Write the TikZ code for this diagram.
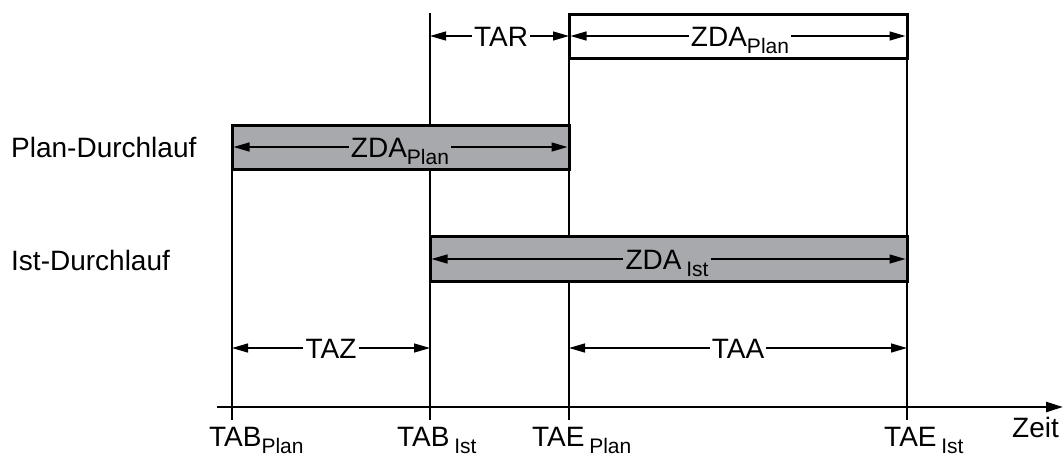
\documentclass[tikz,border=0pt]{standalone}
\usepackage{fontspec}
\setmainfont{Liberation Sans}
\usetikzlibrary{arrows.meta}
\definecolor{barfill}{HTML}{A7A9AC}
\newcommand{\mysub}[1]{\raisebox{-0.28em}{\fontsize{21}{21}\selectfont #1}}
\tikzset{
  tip/.style={-{Triangle[length=16pt,width=9pt]}, line width=1.3pt},
  barbox/.style={line width=3pt, fill=barfill},
  planbox/.style={line width=3pt, fill=white},
  vline/.style={line width=1.3pt},
  lbl/.style={font=\fontsize{28}{30}\selectfont, inner xsep=2pt, inner ysep=0pt, anchor=base, yshift=-10pt},
  txt/.style={font=\fontsize{28}{30}\selectfont, inner sep=0pt, anchor=base west},
}
\begin{document}
\begin{tikzpicture}[x=1pt,y=-1pt]
\useasboundingbox (0,0) rectangle (1064,459);
% vertical lines
\draw[vline] (232,125) -- (232,420);
\draw[vline] (430,13) -- (430,420);
\draw[vline] (569,13) -- (569,420);
\draw[vline] (907,13) -- (907,420);
% axis
\coordinate (ax0) at (217,407);
\coordinate (ax1) at (1063,407);
\draw[line width=2.6pt, -{Triangle[length=17pt,width=10pt]}] (ax0) -- (ax1);
% boxes
\draw[planbox] (569,14) rectangle (907,58);
\draw[barbox] (232,125) rectangle (569,169);
\draw[barbox] (430,236) rectangle (907,281);
% arrow end points
\coordinate (tarL) at (430,36);  \coordinate (tarR) at (569,36);
\coordinate (zpL) at (570.5,36); \coordinate (zpR) at (905.5,36);
\coordinate (pbL) at (233.5,147);\coordinate (pbR) at (567.5,147);
\coordinate (ibL) at (431.5,259);\coordinate (ibR) at (905.5,259);
\coordinate (tazL) at (232,348); \coordinate (tazR) at (430,348);
\coordinate (taaL) at (569,348); \coordinate (taaR) at (907,348);
% labels on dimension lines
\node[lbl] (tar) at (501,36) {TAR};
\node[lbl] (zp) at (740,36) {ZDA\mysub{Plan}};
\node[lbl] (pb) at (400,147) {ZDA\mysub{Plan}};
\node[lbl] (ib) at (667,259) {ZDA\,\mysub{Ist}};
\node[lbl] (taz) at (331,348) {TAZ};
\node[lbl] (taa) at (738,348) {TAA};
% dimension arrows
\foreach \n/\l/\r in {tar/tarL/tarR, zp/zpL/zpR, pb/pbL/pbR, ib/ibL/ibR, taz/tazL/tazR, taa/taaL/taaR}{
  \draw[tip] (\n.west |- \l) -- (\l);
  \draw[tip] (\n.east |- \r) -- (\r);
}
% row labels
\node[txt] (plan) at (11,157) {Plan-Durchlauf};
\node[txt] (ist) at (11,270) {Ist-Durchlauf};
% axis labels
\node[txt] (t1) at (209,446) {TAB\mysub{Plan}};
\node[txt] (t2) at (397,446) {TAB\,\mysub{Ist}};
\node[txt] (t3) at (532,446) {TAE\,\mysub{Plan}};
\node[txt] (t4) at (884,446) {TAE\,\mysub{Ist}};
\node[txt] (zeit) at (1012,437) {Zeit};
\end{tikzpicture}
\end{document}
